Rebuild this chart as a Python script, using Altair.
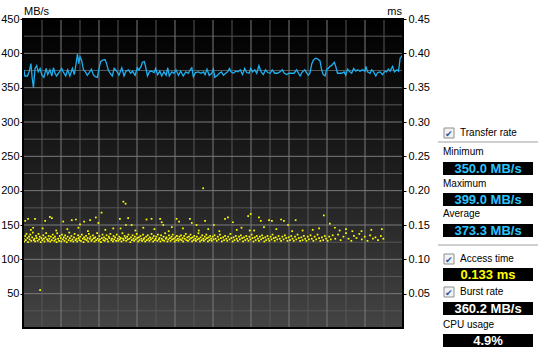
import altair as alt
import pandas as pd

# ---------------- data ----------------
transfer_samples = [
    (0.3, 376), (0.6, 367), (1.4, 367), (2.0, 374), (2.5, 385), (2.9, 364), (3.3, 350), (3.8, 378),
    (4.3, 382), (4.8, 373), (5.4, 378), (5.9, 369), (6.6, 365), (7.3, 378), (7.8, 369), (8.5, 376),
    (9.1, 367), (9.6, 379), (10.1, 371), (10.6, 367), (11.5, 373), (12.2, 378), (12.7, 373), (13.5, 367),
    (14.1, 376), (14.8, 367), (15.6, 378), (16.2, 369), (16.7, 383), (17.2, 399), (17.6, 385), (18.0, 395),
    (18.5, 390), (19.1, 376), (19.7, 373), (20.3, 368), (20.9, 372), (21.6, 377), (22.2, 369), (22.8, 366),
    (23.5, 365), (24.0, 378), (24.5, 388), (25.2, 390), (25.9, 391), (26.4, 385), (26.9, 376), (27.5, 371),
    (28.2, 367), (28.8, 378), (29.6, 374),
    (30.3, 368), (31.2, 379), (31.9, 367), (32.5, 374), (33.3, 376), (34.0, 371), (34.6, 374), (35.4, 368),
    (36.1, 379), (36.6, 376), (37.3, 381), (37.7, 387), (38.3, 388), (38.7, 381), (39.3, 367), (39.9, 373),
    (40.6, 374), (41.4, 372), (41.9, 378), (42.5, 369), (43.2, 374), (43.8, 367), (44.5, 373), (45.2, 368),
    (45.7, 379), (46.2, 367), (47.0, 373), (47.7, 371), (48.3, 376), (49.1, 368), (49.8, 374), (50.6, 367),
    (51.4, 373), (52.2, 371), (52.8, 376), (53.3, 379), (53.8, 366), (54.5, 372), (55.4, 373), (56.2, 371),
    (57.0, 373), (57.5, 369), (58.1, 377), (58.8, 368), (59.6, 371),
    (60.1, 377), (60.6, 365), (61.4, 368), (62.0, 371), (62.7, 373), (63.3, 368), (64.0, 371), (64.6, 373),
    (65.2, 378), (65.7, 373), (66.4, 371), (67.2, 374), (67.9, 373), (68.6, 376), (69.3, 369), (70.0, 378),
    (70.6, 372), (71.4, 371), (71.9, 378), (72.5, 373), (73.2, 376), (73.8, 371), (74.5, 382), (75.2, 373),
    (75.9, 369), (76.6, 376), (77.3, 372), (78.0, 371), (78.7, 376), (79.5, 371), (80.4, 371), (81.1, 373),
    (81.9, 376), (82.5, 371), (83.3, 369), (84.0, 371), (84.8, 371), (85.6, 371), (86.4, 376), (87.0, 371),
    (87.5, 367), (88.2, 373), (89.0, 376), (89.6, 371),
    (90.1, 368), (90.6, 371), (91.2, 385), (91.7, 390), (92.4, 393), (93.0, 392), (93.8, 389), (94.3, 376),
    (94.8, 369), (95.4, 367), (95.9, 377), (96.4, 378), (96.9, 381), (97.4, 382), (98.3, 387), (98.7, 382),
    (99.3, 371), (99.9, 371), (100.6, 371), (101.4, 373), (101.9, 368), (102.5, 377), (103.2, 373), (103.8, 371),
    (104.4, 378), (105.1, 374), (105.7, 376), (106.4, 374), (107.2, 376), (108.0, 374), (108.3, 381), (108.8, 373),
    (109.6, 371), (110.1, 376), (110.6, 374), (111.4, 367), (112.0, 372), (112.8, 373), (113.5, 369), (114.3, 374),
    (114.8, 373), (115.4, 377), (115.9, 374), (116.7, 381), (117.3, 373), (118.1, 376), (118.6, 374), (119.1, 393),
    (119.8, 397),
]

access_band = [
    (0.2, .130), (0.4, .126), (0.7, .134), (0.9, .128), (1.1, .137), (1.4, .131), (1.6, .125), (1.9, .133),
    (2.1, .129), (2.3, .136), (2.6, .127), (2.9, .132), (3.1, .139), (3.4, .128), (3.6, .130), (3.8, .126),
    (4.1, .134), (4.3, .131), (4.6, .127), (4.9, .137), (5.1, .129), (5.3, .133), (5.6, .125), (5.8, .131),
    (6.1, .128), (6.4, .135), (6.6, .130), (6.8, .126), (7.1, .132), (7.3, .138), (7.6, .129), (7.9, .127),
    (8.1, .134), (8.3, .130), (8.6, .126), (8.8, .133), (9.1, .128), (9.4, .136), (9.6, .131), (9.9, .127),
    (10.1, .133), (10.3, .129), (10.6, .125), (10.8, .138), (11.1, .130), (11.4, .127), (11.6, .134), (11.9, .131),
    (12.1, .126), (12.3, .136), (12.6, .129), (12.9, .132), (13.1, .127), (13.3, .135), (13.6, .130), (13.8, .125),
    (14.1, .133), (14.4, .128), (14.6, .139), (14.8, .131), (15.1, .127), (15.3, .134), (15.6, .129), (15.9, .126),
    (16.1, .132), (16.3, .137), (16.6, .128), (16.9, .130), (17.1, .126), (17.4, .135), (17.6, .131), (17.8, .128),
    (18.1, .133), (18.3, .127), (18.6, .136), (18.9, .130), (19.1, .125), (19.3, .132), (19.6, .129), (19.9, .134),
    (20.1, .128), (20.4, .131), (20.6, .126), (20.8, .137), (21.1, .130), (21.3, .133), (21.6, .127), (21.9, .129),
    (22.1, .135), (22.4, .131), (22.6, .126), (22.8, .132), (23.1, .128), (23.4, .138), (23.6, .130), (23.9, .127),
    (24.1, .134), (24.3, .129), (24.6, .125), (24.9, .131), (25.1, .136), (25.4, .128), (25.6, .132), (25.8, .127),
    (26.1, .130), (26.4, .135), (26.6, .129), (26.9, .126), (27.1, .133), (27.3, .131), (27.6, .137), (27.9, .128),
    (28.1, .130), (28.4, .126), (28.6, .134), (28.8, .129), (29.1, .132), (29.4, .127), (29.6, .136), (29.9, .130),
    (30.1, .127), (30.4, .133), (30.6, .129), (30.9, .131), (31.1, .126), (31.4, .138), (31.6, .130), (31.8, .128),
    (32.1, .134), (32.4, .131), (32.6, .127), (32.9, .133), (33.1, .129), (33.3, .136), (33.6, .130), (33.9, .125),
    (34.1, .132), (34.4, .128), (34.6, .135), (34.9, .130), (35.1, .127), (35.3, .133), (35.6, .129), (35.9, .137),
    (36.1, .131), (36.4, .126), (36.6, .132), (36.8, .128), (37.1, .134), (37.4, .130), (37.6, .127), (37.9, .136),
    (38.1, .129), (38.3, .131), (38.6, .126), (38.9, .133), (39.1, .128), (39.4, .135), (39.6, .130), (39.9, .127),
    (40.1, .132), (40.4, .129), (40.6, .137), (40.9, .131), (41.1, .126), (41.3, .134), (41.6, .128), (41.9, .130),
    (42.1, .133), (42.4, .127), (42.6, .136), (42.9, .129), (43.1, .131), (43.4, .126), (43.6, .135), (43.8, .130),
    (44.1, .128), (44.4, .133), (44.6, .127), (44.9, .138), (45.1, .130), (45.3, .132), (45.6, .126), (45.9, .129),
    (46.1, .135), (46.4, .131), (46.6, .127), (46.9, .133), (47.1, .129), (47.3, .136), (47.6, .130), (47.9, .126),
    (48.1, .132), (48.4, .128), (48.6, .134), (48.9, .130), (49.1, .127), (49.4, .133), (49.6, .129), (49.9, .135),
    (50.1, .128), (50.4, .131), (50.6, .126), (50.9, .134), (51.1, .130), (51.4, .137), (51.6, .128), (51.9, .132),
    (52.1, .127), (52.4, .133), (52.6, .129), (52.9, .136), (53.1, .131), (53.4, .126), (53.6, .132), (53.9, .128),
    (54.1, .134), (54.4, .130), (54.6, .127), (54.9, .133), (55.1, .129), (55.4, .138), (55.6, .130), (55.9, .126),
    (56.1, .132), (56.4, .128), (56.6, .135), (56.9, .130), (57.1, .127), (57.4, .133), (57.6, .129), (57.9, .136),
    (58.1, .131), (58.4, .126), (58.6, .132), (58.9, .128), (59.1, .134), (59.4, .130), (59.6, .127), (59.9, .133),
    (60.2, .129), (60.5, .135), (60.8, .130), (61.2, .127), (61.5, .133), (61.8, .129), (62.2, .136), (62.5, .131),
    (62.8, .126), (63.2, .132), (63.5, .128), (63.8, .134), (64.2, .130), (64.5, .127), (64.8, .133), (65.2, .129),
    (65.5, .137), (65.8, .131), (66.2, .126), (66.5, .132), (66.8, .128), (67.2, .134), (67.5, .130), (67.8, .127),
    (68.2, .133), (68.5, .129), (68.8, .135), (69.2, .131), (69.5, .126), (69.8, .132),
    (70.2, .128), (70.5, .134), (70.8, .130), (71.2, .127), (71.5, .133), (71.8, .129), (72.2, .136), (72.5, .131),
    (72.8, .126), (73.2, .132), (73.5, .128), (73.8, .134), (74.2, .130), (74.5, .127), (74.8, .133), (75.2, .129),
    (75.5, .135), (75.8, .131), (76.2, .126), (76.5, .132), (76.8, .128), (77.2, .134), (77.5, .130), (77.8, .127),
    (78.2, .133), (78.5, .129), (78.8, .136), (79.2, .131), (79.5, .127), (79.8, .132),
    (80.3, .129), (80.7, .134), (81.1, .130), (81.5, .127), (81.9, .133), (82.3, .129), (82.7, .135), (83.1, .131),
    (83.5, .127), (83.9, .132), (84.3, .128), (84.7, .134), (85.1, .130), (85.5, .127), (85.9, .133), (86.3, .129),
    (86.7, .136), (87.1, .131), (87.5, .127), (87.9, .132), (88.3, .128), (88.7, .134), (89.1, .130), (89.5, .127),
    (89.9, .133),
    (90.3, .129), (90.8, .135), (91.2, .130), (91.7, .127), (92.1, .133), (92.6, .129), (93.0, .136), (93.5, .131),
    (93.9, .127), (94.4, .132), (94.8, .128), (95.3, .134), (95.7, .130), (96.2, .127), (96.7, .133), (97.2, .129),
    (97.8, .135),
    (98.6, .130), (99.5, .136), (100.3, .128), (101.2, .133), (102.0, .138), (102.8, .130), (103.7, .127), (104.5, .134),
    (105.3, .131), (106.2, .137), (107.0, .129), (107.9, .133), (108.8, .127), (109.6, .135), (110.5, .130), (111.3, .132),
    (112.1, .128), (113.0, .134), (113.8, .130),
]

access_outliers = [
    (0.7, .156), (1.6, .159), (3.8, .159), (3.2, .146), (7.0, .156), (8.5, .162), (9.1, .160), (5.4, .055),
    (12.7, .155), (15.4, .157), (16.7, .158), (18.0, .151), (19.3, .155), (21.2, .157), (23.0, .161), (23.8, .153),
    (24.8, .168), (30.6, .159), (31.7, .184), (32.4, .181), (33.2, .160), (34.3, .150), (32.5, .150), (30.8, .145),
    (39.0, .158), (40.6, .159), (38.0, .146), (43.3, .159), (43.8, .154), (44.3, .150), (47.0, .147), (48.5, .159),
    (49.3, .155), (52.7, .159), (53.3, .153), (54.8, .150), (56.9, .2035), (57.5, .156), (60.3, .150), (63.8, .159),
    (64.7, .161), (66.3, .154), (71.1, .163), (71.9, .166), (71.6, .142), (74.5, .161), (75.1, .156), (76.1, .147),
    (77.7, .157), (78.6, .156), (81.5, .158), (82.4, .156), (83.7, .150), (86.1, .157), (88.3, .142), (95.0, .164),
    (96.9, .152), (98.5, .146), (102.0, .144), (106.9, .141), (113.3, .144),
    (2.5, .143), (6.2, .145), (10.5, .142), (14.0, .144), (17.5, .146), (20.5, .141), (26.0, .143), (28.5, .145),
    (35.5, .142), (41.5, .144), (46.0, .141), (50.5, .145), (55.5, .142), (58.5, .144), (62.0, .141), (67.5, .143),
    (69.0, .146), (73.0, .142), (80.0, .144), (85.0, .141), (91.5, .143), (93.5, .145), (100.0, .142), (104.0, .141),
    (110.0, .143),
]

x_ticks = [0, 12, 24, 36, 48, 60, 72, 84, 96, 108, 120]
x_minor = [6, 18, 30, 42, 54, 66, 78, 90, 102, 114]
y_ticks = [50, 100, 150, 200, 250, 300, 350, 400, 450]
y_minor = [25, 75, 125, 175, 225, 275, 325, 375, 425]
ms_ticks = [0.05, 0.10, 0.15, 0.20, 0.25, 0.30, 0.35, 0.40, 0.45]

panel_minimum = "350.0 MB/s"
panel_maximum = "399.0 MB/s"
panel_average = "373.3 MB/s"
panel_access = "0.133 ms"
panel_burst = "360.2 MB/s"
panel_cpu = "4.9%"

# ---------------- chart ----------------
W, H = 380, 309
OX, OY = 23, 19  # plot origin in page pixels
FONT = "Liberation Sans"

tdf = pd.DataFrame(transfer_samples, columns=["gb", "mbs"])
adf = pd.DataFrame(access_band + access_outliers, columns=["gb", "ms"])

xscale = alt.Scale(domain=[0, 120], nice=False, zero=False)
yscale = alt.Scale(domain=[0, 450], nice=False)
msscale = alt.Scale(domain=[0, 0.45], nice=False)

one = pd.DataFrame({"k": [0]})

bg = alt.Chart(one).mark_rect(
    fill=alt.LinearGradient(
        gradient="linear",
        stops=[alt.GradientStop(color="#000000", offset=0),
               alt.GradientStop(color="#1e1e1e", offset=0.5),
               alt.GradientStop(color="#444444", offset=1)],
        x1=0, x2=0, y1=0, y2=1),
).encode(x=alt.value(0), x2=alt.value(W), y=alt.value(0), y2=alt.value(H))

vminor = alt.Chart(pd.DataFrame({"gb": x_minor})).mark_rule(color="#575757").encode(
    x=alt.X("gb:Q", scale=xscale, axis=None))
hminor = alt.Chart(pd.DataFrame({"v": y_minor})).mark_rule(color="#575757").encode(
    y=alt.Y("v:Q", scale=yscale, axis=None))
vmajor = alt.Chart(pd.DataFrame({"gb": x_ticks})).mark_rule(color="#7a7a7a").encode(
    x=alt.X("gb:Q", scale=xscale, axis=None))
hmajor = alt.Chart(pd.DataFrame({"v": y_ticks})).mark_rule(color="#7a7a7a").encode(
    y=alt.Y("v:Q", scale=yscale, axis=None))

axis_common = dict(labelFont=FONT, labelFontSize=11, labelColor="#000000", tickColor="#000000",
                   tickSize=3, domain=False, grid=False, title=None)

line = alt.Chart(tdf).mark_line(color="#1fb0f0", strokeWidth=1.3).encode(
    x=alt.X("gb:Q", scale=xscale,
            axis=alt.Axis(values=x_ticks, labelPadding=2,
                          labelExpr="datum.value == 120 ? '120gB' : datum.label", **axis_common)),
    y=alt.Y("mbs:Q", scale=yscale,
            axis=alt.Axis(orient="left", values=y_ticks, labelPadding=1, **axis_common)),
)

dots = alt.Chart(adf).mark_square(color="#ffff00", size=3, opacity=1).encode(
    x=alt.X("gb:Q", scale=xscale, axis=None),
    y=alt.Y("ms:Q", scale=msscale,
            axis=alt.Axis(orient="right", values=ms_ticks, format=".2f", labelPadding=2, **axis_common)),
)

border = alt.Chart(one).mark_rect(fillOpacity=0, stroke="#000000", strokeWidth=2).encode(
    x=alt.value(0), x2=alt.value(W), y=alt.value(0), y2=alt.value(H))


def txt(s, x, y, color="#000000", size=10, weight="normal", align="left"):
    return alt.Chart(pd.DataFrame({"t": [s]})).mark_text(
        align=align, baseline="middle", font=FONT, fontSize=size, fontWeight=weight, color=color
    ).encode(text="t:N", x=alt.value(x - OX), y=alt.value(y - OY))


def box(x1, y1, x2, y2, fill, stroke="#000000", sw=0):
    return alt.Chart(one).mark_rect(fill=fill, stroke=stroke, strokeWidth=sw).encode(
        x=alt.value(x1 - OX), x2=alt.value(x2 - OX), y=alt.value(y1 - OY), y2=alt.value(y2 - OY))


def sep(y):
    return alt.Chart(one).mark_rule(color="#a0a0a0", strokeWidth=1).encode(
        x=alt.value(438 - OX), x2=alt.value(538 - OX), y=alt.value(y - OY))


def checkbox(y):
    return [box(444, y - 5, 454, y + 5, "#f2f2f2", "#8e8f8f", 1),
            txt("\u2714", 449, y + 0.5, "#2b5aa8", 9, "normal", "center")]


panel = []
panel += checkbox(133) + [txt("Transfer rate", 460, 133)]
panel += [sep(142)]
panel += [txt("Minimum", 443, 152), box(443, 162, 533, 175, "#000000"),
          txt(panel_minimum, 488, 168.5, "#2cc4ff", 13, "bold", "center")]
panel += [txt("Maximum", 443, 184), box(443, 193, 533, 206, "#000000"),
          txt(panel_maximum, 488, 199.5, "#2cc4ff", 13, "bold", "center")]
panel += [txt("Average", 443, 214), box(443, 224, 533, 237, "#000000"),
          txt(panel_average, 488, 230.5, "#2cc4ff", 13, "bold", "center")]
panel += [sep(245)]
panel += checkbox(259) + [txt("Access time", 460, 259)]
panel += [box(443, 268, 533, 281, "#000000"),
          txt(panel_access, 488, 274.5, "#ffff00", 13, "bold", "center")]
panel += checkbox(292) + [txt("Burst rate", 460, 292)]
panel += [box(443, 302, 533, 315, "#000000"),
          txt(panel_burst, 488, 308.5, "#ffffff", 13, "bold", "center")]
panel += [txt("CPU usage", 443, 325), box(443, 334, 533, 347, "#000000"),
          txt(panel_cpu, 488, 340.5, "#ffffff", 13, "bold", "center")]

titles = [txt("MB/s", 24, 12, size=11), txt("ms", 402, 12, size=11, align="right")]

chart = alt.layer(
    bg, vminor, hminor, vmajor, hmajor, line, dots, border, *titles, *panel
).resolve_scale(y="independent").properties(
    width=W, height=H,
    autosize=alt.AutoSizeParams(type="none"),
    padding={"left": OX, "top": OY, "right": 538 - OX - W, "bottom": 353 - OY - H},
).configure(background="#ffffff").configure_view(strokeWidth=0)

chart.save("out.html", embed_options={"renderer": "svg", "actions": False})
